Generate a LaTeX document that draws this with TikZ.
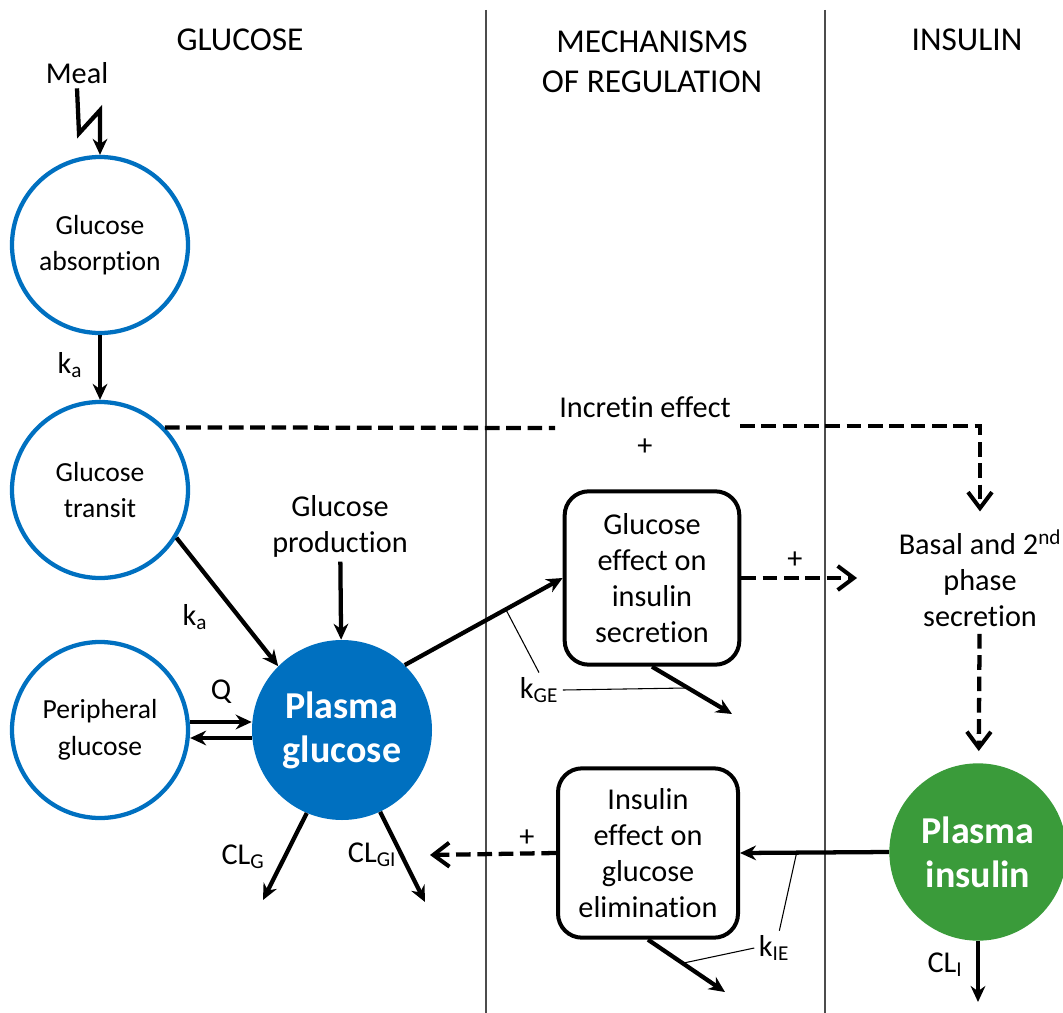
\documentclass[tikz,border=0pt]{standalone}
\usepackage{fontspec}
\setmainfont{Carlito}[RawFeature={-liga;-clig;-dlig;-calt}]
\usetikzlibrary{arrows.meta,positioning}
\definecolor{gblue}{RGB}{0,112,192}
\definecolor{igreen}{RGB}{58,155,58}

\begin{document}
\begin{tikzpicture}[x=0.75pt,y=-0.75pt,font=\fontsize{22.7}{27}\selectfont,
  >={Stealth[length=12pt,width=11pt]},
  comp/.style={circle,draw=gblue,line width=3.2pt,minimum size=132pt,inner sep=0pt,
    align=center,font=\fontsize{20.7}{27.5}\selectfont},
  plasma/.style={circle,minimum size=133pt,inner sep=0pt,align=center,text=white,
    font=\fontsize{28.5}{33}\selectfont\bfseries},
  effbox/.style={draw,line width=3pt,rounded corners=18pt,align=center,
    minimum width=131pt,minimum height=130pt},
  flow/.style={->,line width=3.2pt},
  signal/.style={line width=3.2pt,dash pattern=on 11pt off 5pt,
    -{Straight Barb[length=12pt,width=18pt,line width=3pt]}},
  lbl/.style={line width=0.8pt},
  hdr/.style={align=center,font=\fontsize{25}{30}\selectfont}]
  \useasboundingbox (0,0) rectangle (1063,1013);

  % Columns
  \draw[line width=1pt,black!70] (486,10) -- (486,1013);
  \draw[line width=1pt,black!70] (825,10) -- (825,1013);
  \node[hdr] (hglu) at (240,40) {GLUCOSE};
  \node[hdr] (hmech) at (652,62) {MECHANISMS\\OF REGULATION};
  \node[hdr] (hins) at (967,40) {INSULIN};

  % Glucose compartments
  \node (meal) at (77,73) {Meal};
  \node[comp] (absorp) at (100,245) {Glucose\\absorption};
  \node[comp] (transit) at (100,490) {Glucose\\transit};
  \node[comp] (periph) at (100,730) {Peripheral\\glucose};
  \node[plasma,fill=gblue,minimum size=135pt] (pglu) at (342,730) {Plasma\\glucose};
  \node[align=center] (prod) at (340,526) {Glucose\\production};

  % Regulation
  \node[effbox] (geff) at (652,578) {Glucose\\effect on\\insulin\\secretion};
  \node[effbox,minimum width=135pt,minimum height=127pt] (ieff) at (648,853)
    {Insulin\\effect on\\glucose\\elimination};
  \node (incr) at (645,407) {Incretin effect};
  \node (incrp) at (645,447) {+};

  % Insulin
  \node[align=center] (basal) at (980,578) {Basal and 2\textsuperscript{nd}\\phase\\secretion};
  \node[plasma,fill=igreen] (pins) at (978,852) {Plasma\\insulin};

  % Meal input
  \draw[flow] (meal.south) -- ++(2,45) -- ++(21,-23) -- (absorp.north);
  \draw[flow] (absorp) -- (transit);
  \node (ka1) at (70,365) {k\textsubscript{a}};
  \draw[flow] (transit.-32) -- (pglu.135);
  \node (ka2) at (195,617) {k\textsubscript{a}};
  \draw[flow] (prod) -- (pglu);

  % Distribution
  \draw[flow] ([yshift=6pt]periph.east) -- ([yshift=6pt]pglu.west);
  \draw[flow] ([yshift=-6pt]pglu.west) -- ([yshift=-6pt]periph.east);
  \node (q) at (221,692) {Q};

  % Elimination
  \coordinate (clgend) at (263,900);
  \coordinate (clgiend) at (425,902);
  \draw[flow] (pglu.-113) -- (clgend);
  \draw[flow] (pglu.-65) -- (clgiend);
  \node (clg) at (243,857) {CL\textsubscript{G}};
  \node (clgi) at (372,855) {CL\textsubscript{GI}};

  % Glucose effect on secretion
  \draw[flow] (pglu.46) -- coordinate[pos=0.64] (ge1) (geff.west);
  \coordinate (geout) at (732,714);
  \draw[flow] (geff.south) -- coordinate[pos=0.45] (ge2) (geout);
  \node (kge) at (539,690) {k\textsubscript{GE}};
  \draw[lbl] (kge.north) -- (ge1);
  \draw[lbl] (kge.east) -- (ge2);
  \coordinate (bin) at (857,578);
  \draw[signal] (geff.east) -- (bin);
  \node (gep) at (795,560) {+};

  % Incretin effect
  \coordinate (ia) at (555,428);
  \coordinate (ib) at (740,426);
  \coordinate (ic) at (980,426);
  \draw[line width=3.2pt,dash pattern=on 11pt off 5pt] (transit.44) -- (ia);
  \draw[signal,shorten >=10pt] (ib) -- (ic) -- (basal.north);

  % Secretion to plasma insulin
  \draw[signal,shorten >=9pt,shorten <=2pt] (basal) -- (pins);

  % Insulin effect on elimination
  \draw[flow] (pins.west) -- coordinate[pos=0.62] (ie1) (ieff.east);
  \coordinate (ieout) at (725,992);
  \draw[flow] (ieff.south) -- coordinate[pos=0.45] (ie2) (ieout);
  \node (kie) at (774,948) {k\textsubscript{IE}};
  \draw[lbl] ([xshift=4pt]kie.north) -- (ie1);
  \draw[lbl] (kie.west) -- (ie2);
  \coordinate (gin) at (430,855);
  \draw[signal] (ieff.west) -- (gin);
  \node (iep) at (527,838) {+};

  % Insulin clearance
  \coordinate (cliend) at (978,1002);
  \draw[flow] (pins.south) -- (cliend);
  \node (cli) at (945,965) {CL\textsubscript{I}};
\end{tikzpicture}
\end{document}
